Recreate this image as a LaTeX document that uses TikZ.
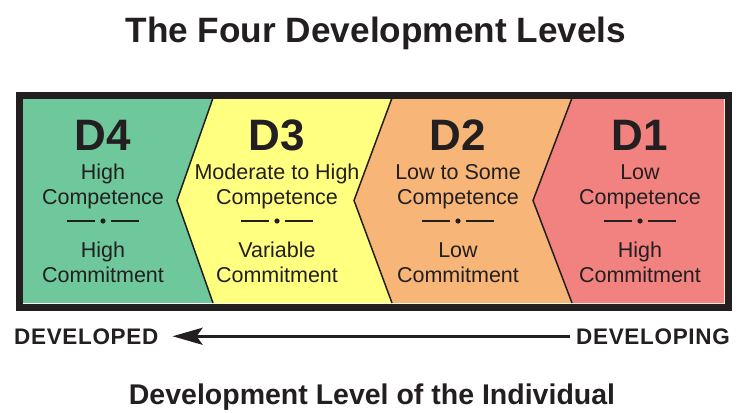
\documentclass[tikz,border=0pt]{standalone}
\usepackage{fontspec}
\setmainfont{Liberation Sans}
\usetikzlibrary{arrows.meta}

\definecolor{livverde}{RGB}{110,200,155}
\definecolor{livgiallo}{RGB}{255,255,128}
\definecolor{livarancio}{RGB}{247,182,120}
\definecolor{livrosa}{RGB}{241,130,128}
\definecolor{inchiostro}{RGB}{35,31,32}

\tikzset{
    livnome/.style={font=\fontsize{44}{44}\selectfont\bfseries, text=inchiostro, anchor=base, inner sep=0pt},
    livtesto/.style={font=\fontsize{21.5}{24}\selectfont, text=inchiostro, anchor=base, inner sep=0pt},
    asse/.style={font=\fontsize{22.5}{22.5}\selectfont\bfseries\addfontfeature{LetterSpace=3}, text=inchiostro, inner sep=0pt},
}

\begin{document}
\begin{tikzpicture}[x=1pt, y=-1pt]
\useasboundingbox (0,0) rectangle (743,412);

% Parametri
\def\ytop{98}
\def\ybot{303}
\def\ymid{200.5}
\def\xdx{724}

% Titolo
\node[font=\fontsize{35.2}{35}\selectfont\bfseries, text=inchiostro, anchor=base] (titolo) at (376,42) {The Four Development Levels};

% Fondo verde e chevron colorati
\fill[livverde] (23,\ytop) rectangle (\xdx,\ybot);
\foreach \xa/\xb/\col in {213/177/livgiallo, 392/354/livarancio, 572/533/livrosa} {
    \fill[\col] (\xa,\ytop) -- (\xdx,\ytop) -- (\xdx,\ybot) -- (\xa,\ybot) -- (\xb,\ymid) -- cycle;
    \draw[inchiostro, line width=1.5pt] (\xa,\ytop) -- (\xb,\ymid) -- (\xa,\ybot);
}

% Cornice
\draw[inchiostro, line width=7pt] (19.5,95) rectangle (728.5,307);

% Testi dei livelli
\foreach \n/\x/\ca/\cb/\ma/\mb in {4/103/High/Competence/High/Commitment,
        3/277/Moderate to High/Competence/Variable/Commitment,
        2/458/Low to Some/Competence/Low/Commitment,
        1/640/Low/Competence/High/Commitment} {
    \node[livnome] (d\n) at (\x,150) {D\n};
    \node[livtesto] (d\n comp1) at (\x,179) {\ca};
    \node[livtesto] (d\n comp2) at (\x,204) {\cb};
    \node[livtesto] (d\n comm1) at (\x,257) {\ma};
    \node[livtesto] (d\n comm2) at (\x,282) {\mb};
    % separatore
    \draw[inchiostro, line width=1.3pt] (\x-36,221) -- (\x-8,221);
    \draw[inchiostro, line width=1.3pt] (\x+8,221) -- (\x+36,221);
    \fill[inchiostro] (\x,221) circle (2.6pt);
}

% Freccia in basso
\node[asse, anchor=base west] (developed) at (14,344) {DEVELOPED};
\node[asse, anchor=base east] (developing) at (730,344) {DEVELOPING};
\draw[inchiostro, line width=3pt, -{Stealth[length=30pt, width=17pt, inset=6pt]},
    shorten <=6pt, shorten >=14pt] (developing.west) -- (developed.east);

% Sottotitolo
\node[font=\fontsize{28.5}{28.5}\selectfont\bfseries, text=inchiostro, anchor=base] (sottotitolo) at (372,404) {Development Level of the Individual};

\end{tikzpicture}
\end{document}
